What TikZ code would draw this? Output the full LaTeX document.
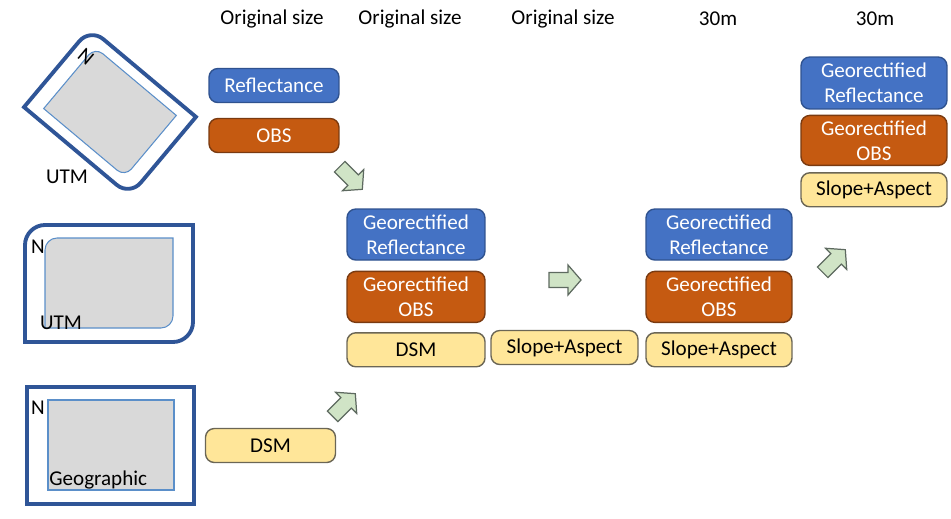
\documentclass[tikz,border=0pt]{standalone}
\usepackage{fontspec}
\setmainfont{Carlito}
\usepackage{xcolor}
\usetikzlibrary{positioning}
\definecolor{reffill}{HTML}{4472C4}
\definecolor{refline}{HTML}{2F528F}
\definecolor{obsfill}{HTML}{C55A11}
\definecolor{obsline}{HTML}{7A3A10}
\definecolor{demfill}{HTML}{FFE699}
\definecolor{demline}{HTML}{6B6655}
\definecolor{framecol}{HTML}{2F5597}
\definecolor{imgfill}{HTML}{D9D9D9}
\definecolor{imgline}{HTML}{5B8FC9}
\definecolor{flowfill}{HTML}{D0E4C6}
\definecolor{flowline}{HTML}{5E6A60}
\tikzstyle{refbox} = [rectangle, rounded corners=5pt, minimum width=2.6cm, minimum height=0.68cm, inner sep=1pt,
                      align=center, draw=refline, line width=0.8pt, fill=reffill, text=white]
\tikzstyle{obsbox} = [rectangle, rounded corners=5pt, minimum width=2.6cm, minimum height=0.68cm, inner sep=1pt,
                      align=center, draw=obsline, line width=0.8pt, fill=obsfill, text=white]
\tikzstyle{dembox} = [rectangle, rounded corners=5pt, minimum width=2.6cm, minimum height=0.68cm, inner sep=1pt,
                      align=center, draw=demline, line width=0.8pt, fill=demfill, text=black]
\tikzstyle{frame}  = [draw=framecol, line width=2.2pt]
\tikzstyle{img}    = [draw=imgline, fill=imgfill, line width=0.6pt]
\tikzset{flow/.pic={
  \draw[flowline, fill=flowfill, line width=0.7pt, line join=miter]
    (-16,-7.5) -- (3,-7.5) -- (3,-15) -- (16,0) -- (3,15) -- (3,7.5) -- (-16,7.5) -- cycle;
}}

\begin{document}
\begin{tikzpicture}[x=0.02cm, y=-0.02cm, node distance=0.2cm, font=\fontsize{12}{14.2}\selectfont]
  \useasboundingbox (0,0) rectangle (951,518);

  \node (h1) at (272,19) {Original size};
  \node (h2) at (410,19) {Original size};
  \node (h3) at (563,19) {Original size};
  \node (h4) at (718,19) {30m};
  \node (h5) at (875,19) {30m};

  \begin{scope}[shift={(110,112)}, rotate=-40]
    \draw[frame] (-69,51.5) -- (-69,-34.5) .. controls (-69,-43.9) and (-61.4,-51.5) .. (-52,-51.5) -- (69,-51.5)
      -- (69,34.5) .. controls (69,43.9) and (61.4,51.5) .. (52,51.5) -- cycle;
    \draw[img] (-53,40) -- (-53,-30) .. controls (-53,-35.5) and (-48.5,-40) .. (-43,-40) -- (53,-40)
      -- (53,30) .. controls (53,35.5) and (48.5,40) .. (43,40) -- cycle;
    \node (n1) [rotate=-40] at (-54,-27) {N};
  \end{scope}
  \node (u1) at (67,177) {UTM};

  \draw[frame] (25,342) -- (25,245) .. controls (25,234) and (34,225) .. (45,225) -- (193,225)
    -- (193,322) .. controls (193,333) and (184,342) .. (173,342) -- cycle;
  \draw[img] (45,328) -- (45,250) .. controls (45,243.4) and (50.4,238) .. (57,238) -- (173,238)
    -- (173,316) .. controls (173,322.6) and (167.6,328) .. (161,328) -- cycle;
  \node (n2) at (38,247) {N};
  \node (u2) at (61,323) {UTM};

  \draw[frame] (27,387) rectangle (194,504);
  \draw[img] (48,400) rectangle (174,490);
  \node (n3) at (38,408) {N};
  \node (g3) [anchor=west, inner sep=0pt] at (49,480) {Geographic};

  \node (r1) [refbox] at (274,85.5) {Reflectance};
  \node (o1) [obsbox] at (274,135.5) {OBS};
  \node (d1) [dembox] at (270.5,445.5) {DSM};

  \node (r2) [refbox, minimum width=2.76cm, minimum height=1.02cm] at (416,234.5) {Georectified\\Reflectance};
  \node (o2) [obsbox, minimum width=2.76cm, minimum height=1.02cm, below=of r2] {Georectified\\OBS};
  \node (d2) [dembox, minimum width=2.76cm, below=0.18cm of o2] {DSM};
  \node (s3) [dembox, minimum width=2.94cm] at (564.5,347.5) {Slope+Aspect};

  \node (r4) [refbox, minimum width=2.92cm, minimum height=1.02cm] at (719,234.5) {Georectified\\Reflectance};
  \node (o4) [obsbox, minimum width=2.92cm, minimum height=1.02cm, below=of r4] {Georectified\\OBS};
  \node (s4) [dembox, minimum width=2.92cm, below=0.18cm of o4] {Slope+Aspect};

  \node (r5) [refbox, minimum width=2.92cm, minimum height=1.04cm] at (874,83) {Georectified\\Reflectance};
  \node (o5) [obsbox, minimum width=2.92cm, minimum height=1.0cm, below=0.1cm of r5] {Georectified\\OBS};
  \node (s5) [dembox, minimum width=2.92cm, below=0.12cm of o5] {Slope+Aspect};

  \pic (a1) [rotate=-45] at (351,178) {flow};
  \pic (a2) at (565,280) {flow};
  \pic (a3) [rotate=45] at (834,261) {flow};
  \pic (a4) [rotate=45] at (344,405) {flow};
\end{tikzpicture}
\end{document}
